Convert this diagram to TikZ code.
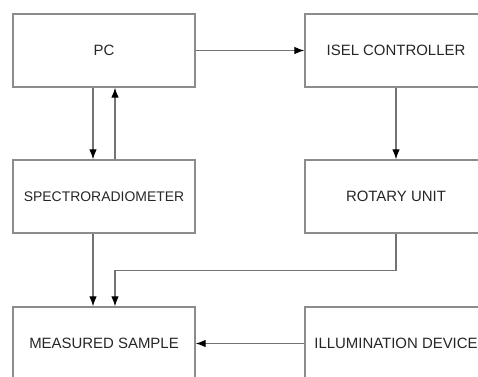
\documentclass[tikz,border=0pt]{standalone}
\usepackage{fontspec}
\setmainfont{Liberation Sans}
\usetikzlibrary{arrows.meta}

\tikzset{
  block/.style={draw=black!45, line width=1.3bp, minimum width=182bp, minimum height=73bp,
    inner sep=0pt, text=black!85, font=\fontsize{15}{17}\selectfont},
  conn/.style={draw=black!55, line width=1.1bp, -{Latex[length=10bp,width=7.5bp,color=black]}}
}

\begin{document}
\begin{tikzpicture}[x=1bp,y=-1bp]
			\useasboundingbox (0,0) rectangle (478,376);
			% boxes
			\node[block] (pc) at (104,50.5) {PC};
			\node[block] (isel) at (396,50.5) {ISEL CONTROLLER};
			\node[block, font=\fontsize{14}{16}\selectfont] (spec) at (104,196.5) {SPECTRORADIOMETER};
			\node[block] (rot) at (396,196.5) {ROTARY UNIT};
			\node[block] (meas) at (104,343.5) {MEASURED SAMPLE};
			\node[block] (illum) at (396,343.5) {ILLUMINATION DEVICE};
			% connections
			\draw[conn] (pc) -- (isel);
			\draw[conn] ([xshift=-11bp]pc.south) -- ([xshift=-11bp]spec.north);
			\draw[conn] ([xshift=11bp]spec.north) -- ([xshift=11bp]pc.south);
			\draw[conn] (isel) -- (rot);
			\draw[conn] ([xshift=-11bp]spec.south) -- ([xshift=-11bp]meas.north);
			\draw[conn] (rot.south) -- ++(0,37) -| ([xshift=11bp]meas.north);
			\draw[conn] (illum) -- (meas);
		\end{tikzpicture}
\end{document}
